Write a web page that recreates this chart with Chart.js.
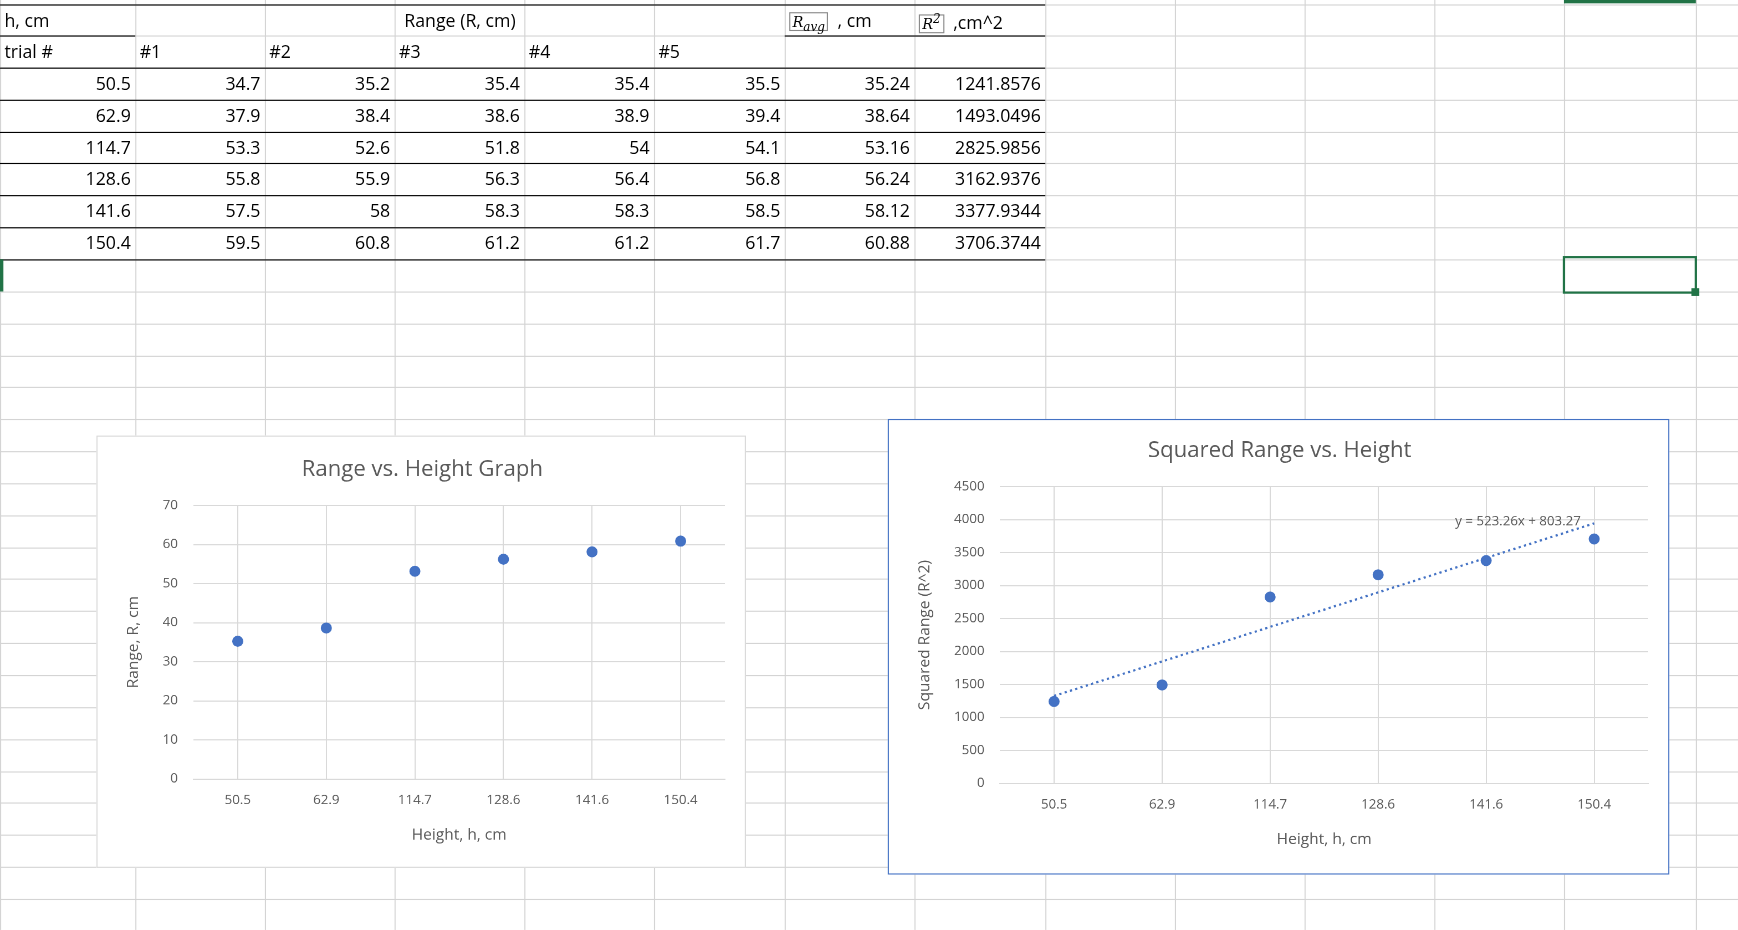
<!DOCTYPE html>
<html>
<head>
<meta charset="utf-8">
<script src="https://cdn.jsdelivr.net/npm/chart.js@4"></script>
<style>
  body { margin:0; background:#fff; overflow:hidden; }
  #sheet { position:absolute; left:0; top:0; width:1568px; height:839px; transform-origin:0 0; transform:scale(1.1084); font-family:"Open Sans","Noto Sans",sans-serif; }
  .v, .h { position:absolute; background:#d4d4d4; }
  .cell { position:absolute; font-size:16px; line-height:28px; color:#000; white-space:nowrap; padding:0 4px; box-sizing:border-box; z-index:2; }
  .box { position:absolute; background:#fff; box-sizing:border-box; z-index:3; }
  .blk { z-index:1; }
</style>
</head>
<body>
<div id="sheet"></div>
<script>
var heights = ['50.5', '62.9', '114.7', '128.6', '141.6', '150.4'];
var trial1 = [34.7, 37.9, 53.3, 55.8, 57.5, 59.5];
var trial2 = [35.2, 38.4, 52.6, 55.9, 58, 60.8];
var trial3 = [35.4, 38.6, 51.8, 56.3, 58.3, 61.2];
var trial4 = [35.4, 38.9, 54, 56.4, 58.3, 61.2];
var trial5 = [35.5, 39.4, 54.1, 56.8, 58.5, 61.7];
var rangeAvg = [35.24, 38.64, 53.16, 56.24, 58.12, 60.88];
var rangeSq = [1241.8576, 1493.0496, 2825.9856, 3162.9376, 3377.9344, 3706.3744];
var trendValues = [1326.53, 1849.79, 2373.05, 2896.31, 3419.57, 3942.83];
var trendLabel = 'y = 523.26x + 803.27';

var sheet = document.getElementById('sheet');
var cols = [0, 122, 239, 356, 473, 590, 708, 825, 943, 1060, 1177, 1294, 1411, 1530, 1568];
var rows = [4];
for (var y = 32; y < 839; y += 28.85) rows.push(Math.round(y));

function add(cls, css, html) {
  var d = document.createElement('div');
  d.className = cls;
  d.style.cssText = css;
  if (html !== undefined) d.innerHTML = html;
  sheet.appendChild(d);
  return d;
}
cols.forEach(function(x){ add('v', 'left:'+x+'px;top:0;width:1px;height:839px;'); });
rows.forEach(function(y){ add('h', 'left:0;top:'+y+'px;width:1568px;height:1px;'); });

// table borders
var tr = rows.slice(0, 9);
for (var r = 0; r < 9; r++) {
  if (r === 1) { add('h blk', 'left:0;top:'+tr[r]+'px;width:122px;height:1px;background:#000;'); add('h blk', 'left:708px;top:'+tr[r]+'px;width:235px;height:1px;background:#000;'); }
  else add('h blk', 'left:0;top:'+tr[r]+'px;width:943px;height:1px;background:#000;');
}
for (var c = 0; c < 9; c++) {
  var top = (c >= 2 && c <= 5) ? tr[1] : tr[0];
  add('v blk', 'left:'+cols[c]+'px;top:'+top+'px;width:1px;height:'+(tr[8]-top)+'px;background:#000;');
}

function cell(c, r, text, align, span) {
  var w = cols[c + (span || 1)] - cols[c];
  add('cell', 'left:'+cols[c]+'px;top:'+rows[r]+'px;width:'+w+'px;text-align:'+(align||'left')+';', text);
}
cell(0, 0, 'h, cm');
cell(1, 0, 'Range (R, cm)', 'center', 5);
cell(6, 0, '<span style="font-family:DejaVu Serif;font-style:italic;font-size:13px;border:1px solid #888;padding:0 2px">R<sub>avg</sub></span>&nbsp; , cm');
cell(7, 0, '<span style="font-family:DejaVu Serif;font-style:italic;font-size:13px;border:1px solid #888;padding:0 2px">R<sup>2</sup></span>&nbsp; ,cm^2');
cell(0, 1, 'trial #');
for (var k = 1; k <= 5; k++) cell(k, 1, '#' + k);
var trials = [trial1, trial2, trial3, trial4, trial5];
for (var i = 0; i < heights.length; i++) {
  cell(0, i + 2, heights[i], 'right');
  for (var t = 0; t < 5; t++) cell(t + 1, i + 2, String(trials[t][i]), 'right');
  cell(6, i + 2, String(rangeAvg[i]), 'right');
  cell(7, i + 2, String(rangeSq[i]), 'right');
}
add('box', 'left:1410px;top:231px;width:121px;height:34px;border:2px solid #217346;background:transparent;');
add('box', 'left:1526px;top:260px;width:7px;height:7px;background:#217346;');
add('box', 'left:1411px;top:0;width:119px;height:3px;background:#217346;');
add('box', 'left:0;top:234px;width:3px;height:29px;background:#217346;');

var box1 = add('box', 'left:87px;top:393px;width:586px;height:390px;border:1px solid #d9d9d9;');
var box2 = add('box', 'left:801px;top:378px;width:705px;height:411px;border:1.5px solid #4472C4;');
var cv1 = document.createElement('canvas'); box1.appendChild(cv1);
var cv2 = document.createElement('canvas'); box2.appendChild(cv2);

var grey = '#595959';
function opts(title, ytitle, ymax, step, pad) {
  return {
    responsive: true, maintainAspectRatio: false, animation: false, devicePixelRatio: 2,
    layout: { padding: pad },
    plugins: {
      legend: { display: false }, tooltip: { enabled: false },
      title: { display: true, text: title, color: grey, font: { family: 'Open Sans', size: 20, weight: 'normal' }, padding: { top: 0, bottom: 20 } }
    },
    scales: {
      x: { type: 'category', offset: true, grid: { color: '#d9d9d9', drawTicks: false }, border: { color: '#d9d9d9' },
           ticks: { color: grey, font: { family: 'Open Sans', size: 12 }, padding: 12 },
           title: { display: true, text: 'Height, h, cm', color: grey, font: { family: 'Open Sans', size: 14 } } },
      y: { min: 0, max: ymax, grid: { color: '#d9d9d9', drawTicks: false }, border: { display: false },
           ticks: { stepSize: step, color: grey, font: { family: 'Open Sans', size: 12 }, padding: 14,
                    callback: function(v) { return String(v); } },
           title: { display: true, text: ytitle, color: grey, font: { family: 'Open Sans', size: 14 } } }
    }
  };
}

new Chart(cv1, {
  type: 'scatter',
  data: { labels: heights, datasets: [{ type: 'line', showLine: false, data: rangeAvg, pointRadius: 4.5, backgroundColor: '#4472C4', borderColor: '#4472C4' }] },
  options: opts('Range vs. Height Graph', 'Range, R, cm', 70, 10, { top: 18, left: 20, right: 18, bottom: 16 })
});

var trendText = {
  id: 'trendText',
  afterDatasetsDraw: function(chart) {
    var meta = chart.getDatasetMeta(1);
    var p = meta.data[meta.data.length - 1];
    var ctx = chart.ctx;
    ctx.save();
    ctx.fillStyle = grey;
    ctx.font = '12px Open Sans';
    ctx.textAlign = 'right';
    ctx.fillText(trendLabel, p.x - 12, p.y + 2);
    ctx.restore();
  }
};
new Chart(cv2, {
  type: 'scatter',
  data: { labels: heights, datasets: [
    { type: 'line', showLine: false, data: rangeSq, pointRadius: 4.5, backgroundColor: '#4472C4', borderColor: '#4472C4' },
    { type: 'line', data: trendValues, pointRadius: 0, borderColor: '#4472C4', borderWidth: 2, borderDash: [2, 3], fill: false }
  ] },
  options: opts('Squared Range vs. Height', 'Squared Range (R^2)', 4500, 500, { top: 16, left: 20, right: 18, bottom: 18 }),
  plugins: [trendText]
});
</script>
</body>
</html>
